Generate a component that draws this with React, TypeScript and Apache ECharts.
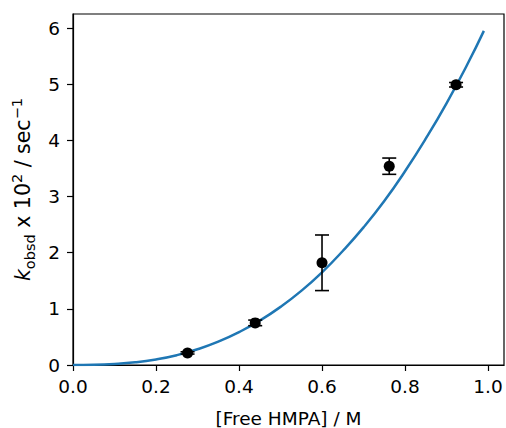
import React, { useEffect, useRef } from "react";
import * as echarts from "echarts";

// Measured data: [Free HMPA] (M), k_obsd x 10^2 (s^-1), error (±)
const concHMPA = [0.276, 0.439, 0.6, 0.762, 0.923];
const kObsd = [0.215, 0.75, 1.82, 3.54, 4.99];
const kErr = [0.02, 0.05, 0.495, 0.145, 0.04];

// Fitted curve
const fitX = [0, 0.05, 0.1, 0.15, 0.2, 0.25, 0.3, 0.35, 0.4, 0.45, 0.5, 0.55, 0.6, 0.65, 0.7, 0.75, 0.8, 0.85, 0.9, 0.95, 0.99];
const fitY = [0, 0.003, 0.017, 0.047, 0.099, 0.175, 0.28, 0.415, 0.585, 0.79, 1.035, 1.32, 1.65, 2.03, 2.45, 2.92, 3.45, 4.03, 4.66, 5.35, 5.95];

const xTicks = [0, 0.2, 0.4, 0.6, 0.8, 1.0];
const yTicks = [0, 1, 2, 3, 4, 5, 6];

const FONT = "DejaVu Sans";
const FS = 18.5;
const NFS = 20.5;
const SFS = 14.5;

export default function App() {
  const ref = useRef<HTMLDivElement>(null);
  useEffect(() => {
    const chart = echarts.init(ref.current!, null, { renderer: "svg" });
    const points = concHMPA.map((x, i) => [x, kObsd[i]]);
    const errData = concHMPA.map((x, i) => [x, kObsd[i] - kErr[i], kObsd[i] + kErr[i]]);
    const fit = fitX.map((x, i) => [x, fitY[i]]);
    chart.setOption({
      animation: false,
      grid: {
        left: 73,
        top: 14,
        right: 2,
        bottom: 63,
        containLabel: false,
        outerBoundsMode: "none",
        show: true,
        borderColor: "#000",
        borderWidth: 1.2,
        backgroundColor: "#fff",
      },
      xAxis: {
        type: "value",
        min: 0,
        max: 1.0385,
        interval: 0.2,
        splitLine: { show: false },
        axisLine: { show: true, onZero: false, lineStyle: { color: "#000", width: 1.2 } },
        axisTick: { show: true, length: 6, lineStyle: { color: "#000", width: 1.2 }, customValues: xTicks },
        axisLabel: {
          customValues: xTicks,
          margin: 12,
          color: "#000",
          fontFamily: FONT,
          fontSize: FS,
          formatter: (v: number) => v.toFixed(1),
        },
        name: "[Free HMPA] / M",
        nameLocation: "middle",
        nameGap: 44,
        nameTextStyle: { color: "#000", fontFamily: FONT, fontSize: FS },
      },
      yAxis: {
        type: "value",
        min: 0,
        max: 6.25,
        interval: 1,
        splitLine: { show: false },
        axisLine: { show: true, onZero: false, lineStyle: { color: "#000", width: 1.2 } },
        axisTick: { show: true, length: 6, lineStyle: { color: "#000", width: 1.2 }, customValues: yTicks },
        axisLabel: {
          customValues: yTicks,
          margin: 13,
          color: "#000",
          fontFamily: FONT,
          fontSize: FS,
          formatter: (v: number) => String(v),
        },
        name: "{k|k}{sub|obsd}{n| x 10}{sup|2}{n| / sec}{sup|−1}",
        nameLocation: "middle",
        nameRotate: 90,
        nameGap: 33,
        nameTextStyle: {
          color: "#000",
          fontFamily: FONT,
          fontSize: NFS,
          rich: {
            k: { fontFamily: FONT, fontSize: NFS, fontStyle: "italic", color: "#000", lineHeight: 28, verticalAlign: "middle" },
            n: { fontFamily: FONT, fontSize: NFS, color: "#000", lineHeight: 28, verticalAlign: "middle" },
            sub: { fontFamily: FONT, fontSize: SFS, color: "#000", lineHeight: 28, verticalAlign: "bottom" },
            sup: { fontFamily: FONT, fontSize: SFS, color: "#000", lineHeight: 28, verticalAlign: "top" },
          },
        },
      },
      series: [
        {
          type: "line",
          data: fit,
          showSymbol: false,
          smooth: true,
          lineStyle: { color: "#1f77b4", width: 2.5 },
          z: 2,
        },
        {
          type: "custom",
          data: errData,
          z: 3,
          renderItem: (params: any, api: any) => {
            const x = api.value(0);
            const lo = api.coord([x, api.value(1)]);
            const hi = api.coord([x, api.value(2)]);
            const cap = 7;
            const style = { stroke: "#000", lineWidth: 1.6 };
            return {
              type: "group",
              children: [
                { type: "line", shape: { x1: lo[0], y1: lo[1], x2: hi[0], y2: hi[1] }, style },
                { type: "line", shape: { x1: lo[0] - cap, y1: lo[1], x2: lo[0] + cap, y2: lo[1] }, style },
                { type: "line", shape: { x1: hi[0] - cap, y1: hi[1], x2: hi[0] + cap, y2: hi[1] }, style },
              ],
            };
          },
        },
        {
          type: "scatter",
          data: points,
          symbol: "circle",
          symbolSize: 11,
          itemStyle: { color: "#000", opacity: 1 },
          z: 4,
        },
      ],
    });
    return () => chart.dispose();
  }, []);
  return (
    <div
      ref={ref}
      style={{ position: "fixed", left: 0, top: 0, width: 506, height: 428, background: "#fff" }}
    />
  );
}
